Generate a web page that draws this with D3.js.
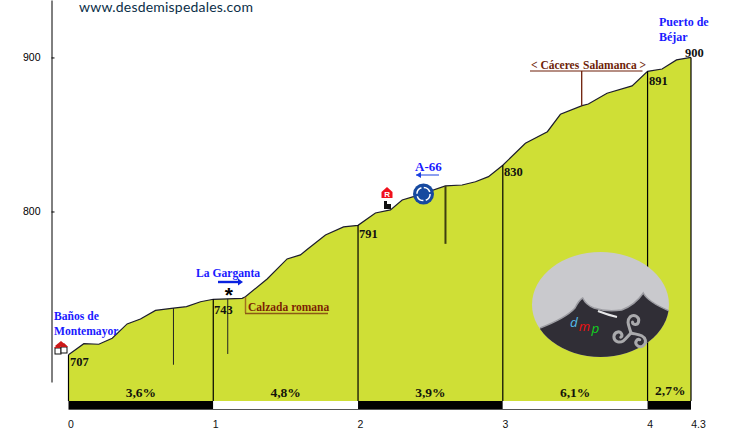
<!DOCTYPE html>
<html><head><meta charset="utf-8">
<style>html,body{margin:0;padding:0;background:#fff;overflow:hidden}svg{display:block}</style>
<script src="https://cdn.jsdelivr.net/npm/d3@7"></script></head>
<body><svg id="c" width="730" height="430"></svg>
<script>
const profileKm=[0,.106,.209,.302,.405,.497,.601,.725,.815,.912,1,1.2,1.222,1.372,1.51,1.602,1.648,1.775,1.9,2,2.12,2.224,2.305,2.383,2.604,2.719,2.811,2.901,3,3.156,3.308,3.398,3.548,3.591,3.72,3.893,4,4.1,4.2,4.3];
const profileElev=[707,714.2,713.8,717.7,727,730.2,735.8,737.3,738.2,741.4,743,743.6,744.7,756.2,769.2,771.8,775.3,784.7,790,791,799,801,807.5,809.6,816.6,817.2,819.3,822.6,830,844.3,851.8,863.1,868.7,869.8,876.8,881.5,891,892.5,898.4,900];
const kmMarks=[0,1,2,3,4,4.3];
const kmLabels=["0","1","2","3","4","4.3"];
const markElev=[707,743,791,830,891,900];
const grades=["3,6%","4,8%","3,9%","6,1%","2,7%"];
const yTicks=[800,900];

const svg=d3.select("#c");
const x=d3.scaleLinear().domain([0,4.3]).range([68.5,691]);
const y=d3.scaleLinear().domain([689.3,937.3]).range([382,0]);
const floorY=401, bandBottom=410;
const serif='"Liberation Serif",serif', sans='"Liberation Sans",sans-serif';
const yellow="#cfdf36", blue="#1a1aff", brown="#6e1e08";
const elevAt=d3.scaleLinear().domain(profileKm).range(profileElev);

// area
svg.append("path").datum(profileKm)
 .attr("d",d3.area().x(k=>x(k)).y0(floorY).y1((k,i)=>y(profileElev[i])))
 .attr("fill",yellow);
svg.append("path").datum(profileKm)
 .attr("d",d3.line().x(k=>x(k)).y((k,i)=>y(profileElev[i])))
 .attr("fill","none").attr("stroke","#1c1c2c").attr("stroke-width",1.2);

// km verticals
svg.selectAll(".v").data(kmMarks).join("line")
 .attr("x1",d=>x(d)).attr("x2",d=>x(d))
 .attr("y1",(d,i)=>y(markElev[i])).attr("y2",floorY)
 .attr("stroke","#000").attr("stroke-width",1.2);

// extra verticals
const extra=[{k:.725,to:700.5,c:"#222",w:1},{k:1.1,to:707.5,c:"#222",w:1},{k:2.604,to:779,c:"#3f3f10",w:2}];
extra.forEach(e=>svg.append("line").attr("x1",x(e.k)).attr("x2",x(e.k))
 .attr("y1",y(elevAt(e.k))).attr("y2",y(e.to)).attr("stroke",e.c).attr("stroke-width",e.w));

// band
svg.selectAll(".b").data(d3.pairs(kmMarks)).join("rect")
 .attr("x",d=>x(d[0])).attr("width",d=>x(d[1])-x(d[0]))
 .attr("y",floorY).attr("height",bandBottom-floorY-1)
 .attr("fill",(d,i)=>i%2?"#fff":"#000");
svg.append("line").attr("x1",x(0)).attr("x2",x(4.3)).attr("y1",bandBottom-.5).attr("y2",bandBottom-.5)
 .attr("stroke","#555").attr("stroke-width",1);

// axes
const ya=d3.axisLeft(y).tickValues(yTicks).tickSizeInner(-3).tickSizeOuter(0).tickPadding(11);
const yg=svg.append("g").attr("transform","translate(51.5,0)").call(ya);
yg.selectAll("text").attr("font-family",sans).attr("font-size",10.5).attr("fill","#000");
yg.select(".domain").attr("stroke","#000");
const xa=d3.axisBottom(x).tickValues(kmMarks).tickFormat((d,i)=>kmLabels[i]).tickSize(0).tickPadding(0);
const xg=svg.append("g").attr("transform","translate(2,420)").call(xa);
xg.select(".domain").remove();
xg.selectAll("text").attr("font-family",sans).attr("font-size",10.5).attr("fill","#111").attr("dy","0.8em");
xg.selectAll(".tick:last-child text").attr("dx",5);

// text helper
function t(s,px,py,o={}){return svg.append("text").attr("x",px).attr("y",py).text(s)
 .attr("font-family",o.f||serif).attr("font-weight",o.w||"bold").attr("font-size",o.s||12)
 .attr("fill",o.c||"#111").attr("text-anchor",o.a||"start").attr("letter-spacing",o.ls||0)
 .attr("font-style",o.st||"normal");}

// grades
grades.forEach((g,i)=>t(g,(x(kmMarks[i])+x(kmMarks[i+1]))/2+(i==4?1:0),i==4?395:397,{a:"middle",s:13.5,c:"#14140a"}));

// elevation labels
const markLabelPos=[[70,366],[214,314],[359,238],[504,176],[649,85],[685,57]];
markElev.forEach((e,i)=>t(String(e),markLabelPos[i][0],markLabelPos[i][1],{s:12.5,c:"#111"}));

// title
t("www.desdemispedales.com",79,12,{f:'"Lato",sans-serif',w:"normal",s:14,ls:.2,c:"#0b2f48"});

// place names
t("Baños de",54,320,{c:blue,s:11.6}); t("Montemayor",54,335,{c:blue,s:11.6});
t("La Garganta",196,277,{c:blue,s:11.6});
t("Puerto de",659,26,{c:blue}); t("Béjar",659,41,{c:blue});
t("A-66",415,171,{c:blue,s:13});
t("< Cáceres",531,69,{c:brown,s:11.5});
t("Salamanca >",583,69,{c:brown,s:11.5});
t("Calzada romana",248,311,{c:"#7c1f04",s:11.5});
t("*",224.8,301.5,{c:"#000",s:21,f:sans,w:"bold"});

// annotation lines
const br=(a,b,c,d,col,w)=>svg.append("line").attr("x1",a).attr("y1",b).attr("x2",c).attr("y2",d).attr("stroke",col).attr("stroke-width",w||1);
br(530,71,642.5,71,brown,1.2);
br(581.7,71,581.7,y(elevAt(3.548)),brown,1.3);
br(245.5,297,245.5,313,"#a0701c",1.5);
br(245,313.5,328,313.5,"#8a5a14",1.5);
br(416,175,439,175,"#1a40e0",1);
svg.append("path").attr("d","M416,175l5,-3v6z").attr("fill","#1a40e0");
br(218,282,238,282,"#0a22e0",2.4);
svg.append("path").attr("d","M238,278.5l5,3.5l-5,3.5z").attr("fill","#0a22e0");

// roundabout
svg.append("circle").attr("cx",423.5).attr("cy",194).attr("r",10.5).attr("fill","#16499f");
svg.append("circle").attr("cx",423.5).attr("cy",194).attr("r",6.6).attr("fill","none").attr("stroke","#fff").attr("stroke-width",1.5).attr("stroke-dasharray","8 2.4");

// R icon and black icon
svg.append("path").attr("d","M387,187l5.5,5v6h-11v-6z").attr("fill","#f0101c");
t("R",384.3,197,{s:8,c:"#fff",f:sans});
svg.append("path").attr("d","M384,201h3v3h4v5h-7z").attr("fill","#111");

// village icon
const v=svg.append("g").attr("transform","translate(54,341)");
v.append("path").attr("d","M7,0L13,5H1z").attr("fill","#d01818");
[[1,6],[7,5]].forEach(p=>{
 v.append("rect").attr("x",p[0]).attr("y",p[1]+1).attr("width",6).attr("height",6).attr("fill","#fff").attr("stroke","#111");
 v.append("path").attr("d",`M${p[0]-1},${p[1]+1}L${p[0]+3},${p[1]-3}L${p[0]+7},${p[1]+1}z`).attr("fill","#c81818");
});

// logo
const L=svg.append("g").attr("transform","translate(532,252)");
const defs=svg.append("defs");
defs.append("clipPath").attr("id","lg").append("ellipse").attr("cx",68.5).attr("cy",52.5).attr("rx",68.5).attr("ry",52.5);
L.append("ellipse").attr("cx",68.5).attr("cy",52.5).attr("rx",68.5).attr("ry",52.5).attr("fill","#c9c9cd");
const m=L.append("g").attr("clip-path","url(#lg)");
const ridgeLine="M8,76 Q34,66 43,56 Q47,48 50.7,46 Q54,53 62,56 Q74,60 89.7,58 Q103,53 111.3,41 Q116,50 137,58.7";
m.append("path").attr("d",ridgeLine+" L137,105 L8,105 Z").attr("fill","#302e36");
m.append("path").attr("d",ridgeLine).attr("fill","none").attr("stroke","#9c9ca2").attr("stroke-width",1.5);
m.append("path").attr("d","M66,59 Q76,63 85,65").attr("fill","none").attr("stroke","#e8e8ea").attr("stroke-width",2.2);
t("d",574,327,{f:'"Open Sans",sans-serif',w:"normal",st:"italic",s:13.5,c:"#55bdea",a:"middle"});
t("m",584.5,331,{f:'"Open Sans",sans-serif',w:"normal",st:"italic",s:13,c:"#f01010",a:"middle"});
t("p",595.5,333,{f:'"Open Sans",sans-serif',w:"normal",st:"italic",s:13.5,c:"#10d020",a:"middle"});
// triskele
const tr=svg.append("g").attr("transform","translate(631,333)");
[0,120,240].forEach(a=>tr.append("path").attr("transform",`rotate(${a})`)
 .attr("d","M0,0 C-2,-7 -5,-12 -1,-16 C3,-19.5 9,-16 7.5,-11 C6.5,-7.5 1.5,-8 1.5,-11")
 .attr("fill","none").attr("stroke","#a9a9ac").attr("stroke-width",3).attr("stroke-linecap","round"));
</script></body></html>
